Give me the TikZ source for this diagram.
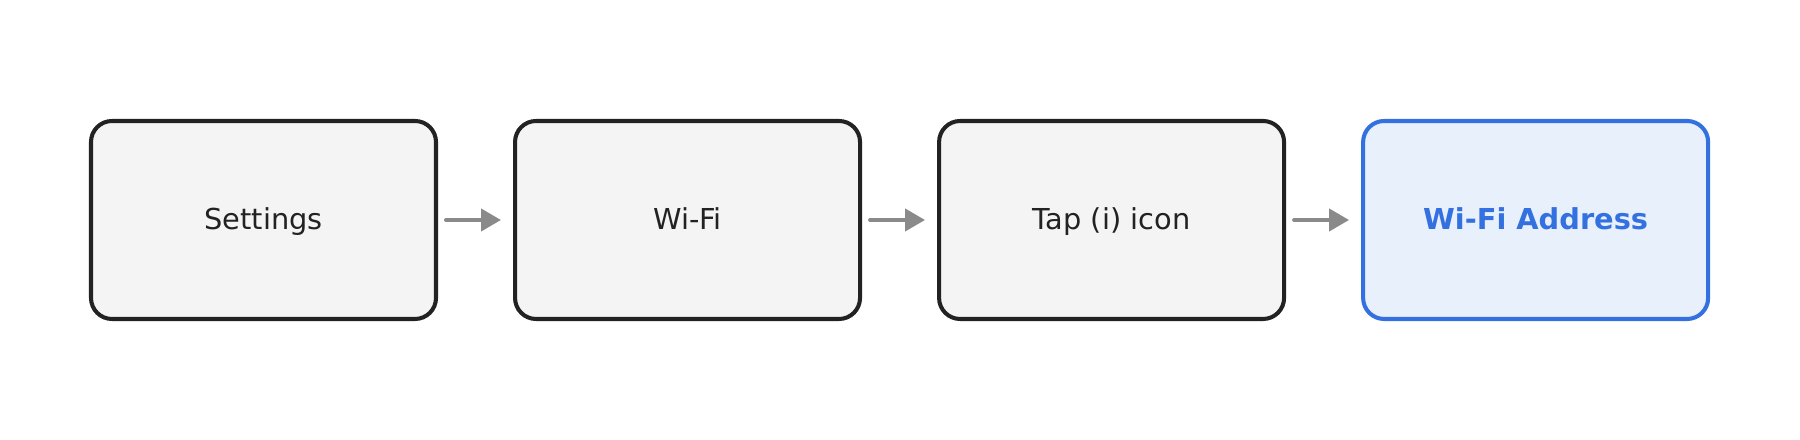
\documentclass[tikz,border=0pt]{standalone}
\usepackage{fontspec}
\setmainfont{DejaVu Sans}
\usetikzlibrary{positioning, arrows.meta}

\definecolor{boxline}{HTML}{222222}
\definecolor{boxfill}{HTML}{F4F4F4}
\definecolor{goalline}{HTML}{3370E0}
\definecolor{goalfill}{HTML}{E8F0FC}
\definecolor{arrowgray}{HTML}{8A8A8A}

\begin{document}
\begin{tikzpicture}[
    node distance = 0.75cm,
    stepbox/.style = {rectangle, draw=boxline, fill=boxfill, line width=1.15pt, rounded corners=0.21cm,
        minimum width=3.45cm, minimum height=1.98cm, text=boxline, text height=0.73em, text depth=0.2em,
        font=\fontsize{8.2}{10}\selectfont},
    goal/.style = {stepbox, draw=goalline, fill=goalfill, text=goalline, font=\fontsize{8.2}{10}\selectfont\bfseries},
    arrow/.style = {-{Triangle[length=2mm, width=2.2mm]}, line width=1.15pt, draw=arrowgray, fill=arrowgray,
        line cap=round, shorten <=0.8mm, shorten >=1.2mm}
]
    \useasboundingbox (0,0) rectangle (18,-4.4);

    \node[stepbox] (SET) at (2.635,-2.20) {Settings};
    \node[stepbox, right=of SET] (WIFI) {Wi-Fi};
    \node[stepbox, right=of WIFI] (TAP) {Tap (i) icon};
    \node[goal, right=of TAP] (ADDR) {Wi-Fi Address};

    \draw[arrow] (SET) -- (WIFI);
    \draw[arrow] (WIFI) -- (TAP);
    \draw[arrow] (TAP) -- (ADDR);
\end{tikzpicture}
\end{document}
